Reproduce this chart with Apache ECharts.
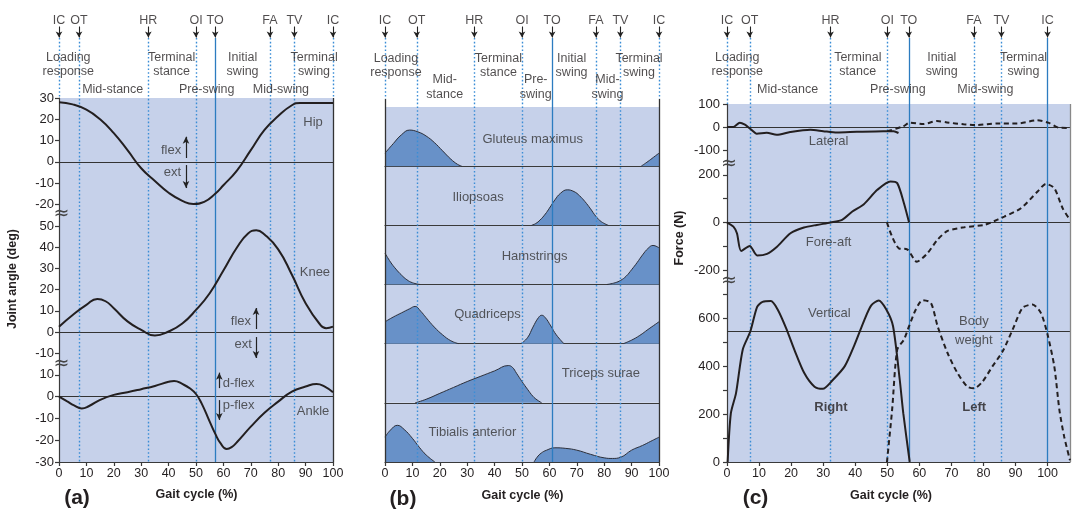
<!DOCTYPE html>
<html><head><meta charset="utf-8">
<script src="https://cdn.jsdelivr.net/npm/echarts@6/dist/echarts.min.js"></script>
<style>html,body{margin:0;padding:0;background:#fff}#c{width:1073px;height:512px}</style>
</head><body><div id="c"></div>
<script>
// ---------------- DATA ----------------
const gaitLabels = [0,10,20,30,40,50,60,70,80,90,100];
const eventNames = ['IC','OT','HR','OI','TO','FA','TV','IC'];
const eventsA = [0,7.3,32.6,50,57,77,85.9,100];
const eventsB = [0,11.6,32.6,50,61,77,85.9,100];
const eventsC = [0,7.1,32.3,50,56.7,77,85.6,100];
const solidA = [false,false,false,false,true,false,false,false];
const solidB = [false,false,false,false,true,false,false,false];
const solidC = [false,false,false,false,true,false,false,true];
const phasesA = ['Loading\nresponse','Mid-stance','Terminal\nstance','Pre-swing','Initial\nswing','Mid-swing','Terminal\nswing'];
const phasesB = ['Loading\nresponse','Mid-\nstance','Terminal\nstance','Pre-\nswing','Initial\nswing','Mid-\nswing','Terminal\nswing'];
const phasesC = ['Loading\nresponse','Mid-stance','Terminal\nstance','Pre-swing','Initial\nswing','Mid-swing','Terminal\nswing'];

// (a) joint angles (deg) vs gait cycle (%)
const hipTicks = [30,20,10,0,-10,-20];
const kneeTicks = [50,40,30,20,10,0,-10];
const ankleTicks = [10,0,-10,-20,-30];
const hipAngle = [[0,28],[5,27],[10,24.5],[15,20],[20,13.5],[25,5.5],[30,-3],[35,-9],[40,-14.5],[45,-18.3],[49,-19.8],[53,-18.8],[57,-15],[60,-11],[65,-4],[70,5.5],[75,15],[80,21.5],[85,26.6],[88,27.7],[94,27.7],[100,27.7]];
const kneeAngle = [[0,2.5],[5,8],[10,12.8],[14,15.6],[17,14.5],[20,11.2],[25,5],[30,1],[35,-1.7],[40,0.2],[45,4],[50,10.4],[55,18.3],[60,29],[65,40],[69,46.5],[72,48],[75,46],[80,39],[85,27],[90,13.6],[95,4],[97.5,1.8],[100,2.5]];
const ankleAngle = [[0,0],[3,-2.2],[5.5,-4],[8.3,-5.4],[11,-4.3],[15,-1.5],[20,0.8],[25,2],[30,3.4],[35,4.9],[40,6.8],[42,7.2],[45,5.8],[48,3.6],[50,1.2],[52,-3],[55,-11.5],[57,-17],[59,-21.5],[61.2,-24],[63,-23.2],[65,-20.8],[70,-13.8],[75,-7.4],[80,-2.3],[85,2.3],[90,4.6],[94,5.8],[97,4.6],[100,2]];

// (b) muscle activity (% of strip height), bursts
const muscleNames = ['Gluteus maximus','Iliopsoas','Hamstrings','Quadriceps','Triceps surae','Tibialis anterior'];
const gluteus = [[[0,22],[3,38],[6,53],[9,61],[12,58],[15,51],[18,40],[21,26],[24,12],[26.5,3],[28,0]],[[93.5,0],[96,8],[98,15],[100,22]]];
const iliopsoas = [[[53.5,0],[55,3],[56.6,9],[58.5,19],[60,29],[62,43],[64,54],[66.5,60],[69,57],[71,50],[73,40],[75,28],[77,15],[79,6],[81.5,0]]];
const hamstrings = [[[0,53],[2,38],[4,26],[6,16],[8,8],[10,3],[12.8,0]],[[81,0],[84,3],[86,7],[88,14],[90,25],[92,37],[94,50],[96,61],[97.8,66],[100,62]]];
const quadriceps = [[[0,37],[3,45],[6,52],[9,59],[11,63],[13,55],[15,44],[18,28],[21,15],[24,5],[26.8,0]],[[49.6,0],[52,10],[54,28],[56,44],[57.2,48],[58.5,44],[60.5,30],[62.5,15],[65.3,0]],[[87,0],[90,6],[93,14],[96,24],[100,37]]];
const tricepsSurae = [[[11,0],[15,6],[20,16],[25,26],[30,36],[35,45],[40,54],[45,63],[46.5,60],[48,50],[50,36],[52,23],[54,11],[55.5,5],[57.2,0]]];
const tibialis = [[[0,42],[2,54],[4.5,62],[7,55],[10,40],[12.5,25],[15,12],[18.2,0]],[[54.4,0],[55.5,8],[57,15],[59,20],[62,24],[66,23],[70,20],[75,13],[80,7],[83,6],[86,8],[90,20],[94,28],[97,35],[100,42]]];

// (c) ground reaction force (N)
const lateralTicks = [100,0,-100];
const foreAftLabels = [200,0,-200];
const foreAftTicks = [200,100,0,-100,-200];
const verticalLabels = [0,200,400,600];
const verticalTicks = [0,100,200,300,400,500,600,700];
const lateralRight = [[0,0],[2,0],[4,19],[5.6,10],[7.2,-7],[9.3,-29],[12.4,-25],[15.5,-34],[19.7,-22],[26,-12],[30,-18],[34.3,-24],[40.5,-21],[48.8,-18],[52,-18],[53.5,-26]];
const lateralLeft = [[50,-18],[55,3],[57,19],[61.3,13],[65.5,26],[68.6,20],[73.8,12],[78,9],[84.3,15],[90.5,15],[96.8,29],[100.4,18],[103.5,-3],[107,-4]];
const foreAftRight = [[0,0],[2,-17],[3.1,-45],[4.4,-119],[7.1,-98],[9.4,-138],[12.5,-131],[15.6,-101],[19.8,-45],[24,-21],[28,-10],[32.3,0],[35.9,11],[39.1,46],[42.7,77],[46.9,137],[51,172],[53.1,165],[55.2,81],[56.8,0]];
const foreAftLeft = [[49.9,0],[51.5,-59],[53.6,-108],[56.2,-112],[59.2,-164],[62.5,-129],[65.6,-73],[68.8,-35],[74,-20],[80.2,-10],[82.3,0],[86.5,25],[91.7,60],[96.9,130],[99.5,162],[102.1,144],[104.7,60],[107,11]];
const verticalRight = [[0.2,0],[1.2,203],[2.8,287],[4.9,470],[7.3,547],[9.4,649],[11.1,670],[13.7,673],[15.8,638],[18.4,561],[21,470],[24.1,372],[27.3,315],[29.9,306],[33,343],[36.7,400],[39.8,491],[42.9,596],[45,655],[47.3,676],[49.7,638],[51.8,568],[53.9,343],[55,203],[57,0]];
const verticalLeft = [[49.9,0],[51.5,217],[53.1,470],[55.2,512],[56.8,568],[58.9,638],[61,677],[63.6,666],[65.7,568],[68.8,456],[71.9,372],[75,315],[77.1,308],[79.7,336],[82.8,400],[86,463],[89.1,554],[92.2,645],[95.3,659],[97.9,624],[100,533],[102.1,400],[103.7,217],[105.2,105],[107,7]];
const bodyWeight = 548;

// ---------------- STYLE / LAYOUT ----------------
const FONT = '"Liberation Sans", Arial, Helvetica, sans-serif';
const TXT = '#231f20', AX = '#3a3a3a', BG = '#c6d1ea', FILL = '#6891c8';
const DOT = '#3a8dd6', SOL = '#2c7cc0', CURVE = '#231f20';

const grid = [], xAxis = [], yAxis = [], series = [];
function addGrid(g, xa, ya) {
  grid.push(Object.assign({show:false, borderWidth:0, outerBoundsMode:'none', containLabel:false}, g));
  const gi = grid.length - 1;
  xAxis.push(Object.assign({type:'value', gridIndex:gi}, xa));
  yAxis.push(Object.assign({type:'value', gridIndex:gi}, ya));
  return gi;
}
const lineAx = {show:true, onZero:false, lineStyle:{color:AX, width:1.2}};
function yVal(min, max, labels, ticks, margin) {
  return {min, max, axisLine:lineAx,
    axisTick:{show:true, length:4, customValues:ticks, lineStyle:{color:AX, width:1.2}},
    axisLabel:{show:true, customValues:labels, color:TXT, fontSize:13, fontFamily:FONT, margin:margin},
    splitLine:{show:false}};
}
function xVal(min, max) {
  return {min, max, axisLine:lineAx,
    axisTick:{show:true, length:4, customValues:gaitLabels, lineStyle:{color:AX, width:1.2}},
    axisLabel:{show:true, customValues:gaitLabels, color:TXT, fontSize:12.5, fontFamily:FONT, margin:5},
    splitLine:{show:false}};
}
const hiddenX = (min,max) => ({min, max, show:false});
const hiddenY = (min,max,inv) => ({min, max, inverse:!!inv, show:false});

function curve(gi, data, extra) {
  return Object.assign({type:'line', xAxisIndex:gi, yAxisIndex:gi, data, smooth:0.5, symbol:'none',
    silent:true, z:5, lineStyle:{color:CURVE, width:2}}, extra || {});
}
function hLine(val) {
  return {silent:true, symbol:'none', label:{show:false}, animation:false,
    lineStyle:{color:'#333', width:1.1, type:'solid'}, data:[{yAxis:val}]};
}
function textSeries(gi, items, lab) {
  return {type:'scatter', xAxisIndex:gi, yAxisIndex:gi, symbolSize:1, silent:true, z:7,
    itemStyle:{color:'rgba(0,0,0,0)'},
    label:Object.assign({show:true, position:'inside', formatter:p=>p.name, color:TXT, fontSize:12.5,
      fontFamily:FONT, lineHeight:14}, lab || {}),
    data:items.map(it => ({name:it[0], value:[it[1], it[2]], label:it[3] || {}}))};
}
function arrowSeries(gi, arrows) {
  return {type:'scatter', xAxisIndex:gi, yAxisIndex:gi, symbolSize:0, silent:true, z:6, data:[],
    markLine:{silent:true, animation:false, label:{show:false},
      data:arrows.map(a => [{coord:[a[0],a[1]], symbol:'none', lineStyle:{color:'#222', width:1.2, type:'solid'}},
                            {coord:[a[0],a[2]], symbol:'arrow', symbolSize:[5,7]}])}};
}
function overlay(gi, events, solid, xmax, plotTop, phases, phasePos, borders, borderColor, phaseLH) {
  const ml = [];
  events.forEach((x, i) => {
    ml.push([{coord:[x,26.5], symbol:'none', lineStyle:{color:'#222', width:1.1, type:'solid'}},
             {coord:[x,37.5], symbol:'arrow', symbolSize:[5,6]}]);
    const boundary = (x === 0 || x === xmax);
    const st = solid[i] ? {color:SOL, width:1.3, type:'solid'} : {color:DOT, width:1.4, type:[1.6,2.2]};
    ml.push([{coord:[x,38], symbol:'none', lineStyle:st}, {coord:[x, boundary ? plotTop : 462], symbol:'none'}]);
  });
  borders.forEach(b => {
    ml.push([{coord:[b[0], b[1]], symbol:'none', lineStyle:{color:borderColor, width:1.3, type:'solid'}},
             {coord:[b[0], 462], symbol:'none'}]);
  });
  series.push({type:'scatter', xAxisIndex:gi, yAxisIndex:gi, symbolSize:0, silent:true, z:4, data:[],
    markLine:{silent:true, animation:false, label:{show:false}, data:ml}});
  series.push(textSeries(gi, events.map((x,i) => [eventNames[i], x, 20.5])));
  series.push(textSeries(gi, phases.map((p,i) => [p, phasePos[i][0], phasePos[i][1],
    p.indexOf('Mid-\n')===0 || p.indexOf('Pre-\n')===0 ? {lineHeight:phaseLH} : {}])));
}

// ===== Panel (a) =====
const aL = 59, aW = 274;
const gOA = addGrid({left:aL, width:aW, top:0, height:462}, hiddenX(0,100), hiddenY(0,462,true));
const gHip = addGrid({left:aL, width:aW, top:98, height:116, show:true, backgroundColor:BG},
  hiddenX(0,100), yVal(-24.5, 30, hipTicks, hipTicks, 5));
const gKnee = addGrid({left:aL, width:aW, top:214, height:151, show:true, backgroundColor:BG},
  hiddenX(0,100), yVal(-15.6, 55.7, kneeTicks, kneeTicks, 5));
const gAnk = addGrid({left:aL, width:aW, top:365, height:97, show:true, backgroundColor:BG},
  xVal(0,100), yVal(-30, 14.5, ankleTicks, ankleTicks, 5));
series.push(curve(gHip, hipAngle, {markLine:hLine(0)}));
series.push(curve(gKnee, kneeAngle, {markLine:hLine(0)}));
series.push(curve(gAnk, ankleAngle, {markLine:hLine(0)}));
series.push(textSeries(gHip, [['Hip',92.7,18.3],['flex',40.9,5.3],['ext',41.4,-5.2]], {fontSize:13, color:'#333'}));
series.push(textSeries(gKnee, [['Knee',93.4,28],['flex',66.4,5.2],['ext',67.2,-5.7]], {fontSize:13, color:'#333'}));
series.push(textSeries(gAnk, [['Ankle',92.7,-6.9],
  ['d-flex',59.6,6.2,{position:'right', distance:0}],['p-flex',59.6,-4.2,{position:'right', distance:0}]], {fontSize:13, color:'#333'}));
series.push(arrowSeries(gHip, [[46.35,1.8,11.8],[46.35,-1.5,-12.3]]));
series.push(arrowSeries(gKnee, [[71.9,1.4,11.3],[71.9,-2.4,-12.3]]));
series.push(arrowSeries(gAnk, [[58.5,3.9,11],[58.5,-1.6,-10.7]]));
overlay(gOA, eventsA, solidA, 100, 98, phasesA,
  [[3.4,65],[19.6,89.5],[41.1,65],[53.9,89.5],[67,65],[81,89.5],[93.1,65]], [[100,98]], '#333', 14);

// ===== Panel (b) =====
const bL = 385, bW = 274, bTop = 107, stripH = (462-107)/6;
const gOB = addGrid({left:bL, width:bW, top:0, height:462}, hiddenX(0,100), hiddenY(0,462,true));
const muscles = [gluteus, iliopsoas, hamstrings, quadriceps, tricepsSurae, tibialis];
const musclePos = [[53.9,45.8],[34,48],[54.6,47.5],[37.4,49],[78.8,49.6],[31.9,49.6]];
muscles.forEach((bursts, i) => {
  const last = i === muscles.length - 1;
  const xa = last ? xVal(0,100) : {min:0, max:100, axisLine:lineAx, axisTick:{show:false}, axisLabel:{show:false}, splitLine:{show:false}};
  const gi = addGrid({left:bL, width:bW, top:bTop + i*stripH, height:stripH, show:true, backgroundColor:BG},
    xa, hiddenY(0,100));
  bursts.forEach(b => series.push({type:'line', xAxisIndex:gi, yAxisIndex:gi, data:b, smooth:0.45,
    symbol:'none', silent:true, z:3, lineStyle:{color:'#2c2f3a', width:1},
    areaStyle:{color:FILL, opacity:1}}));
  series.push(textSeries(gi, [[muscleNames[i], musclePos[i][0], musclePos[i][1]]], {fontSize:13, color:'#333'}));
});
overlay(gOB, eventsB, solidB, 100, 99, phasesB,
  [[4,65.5],[21.8,87.5],[41.4,65.5],[55,87.5],[68.1,65.5],[81.2,87.5],[92.7,65.5]], [[0,99],[100,99]], '#333', 15);

// ===== Panel (c) =====
const cL = 727, cW = 343, cMax = 107;
const gOC = addGrid({left:cL, width:cW, top:0, height:462}, hiddenX(0,cMax), hiddenY(0,462,true));
const gLat = addGrid({left:cL, width:cW, top:104, height:61, show:true, backgroundColor:BG},
  hiddenX(0,cMax), yVal(-165, 100, lateralTicks, lateralTicks, 7));
const gFA = addGrid({left:cL, width:cW, top:165, height:117, show:true, backgroundColor:BG},
  hiddenX(0,cMax), yVal(-249, 241, foreAftLabels, foreAftTicks, 7));
const gVert = addGrid({left:cL, width:cW, top:282, height:180, show:true, backgroundColor:BG},
  xVal(0,cMax), yVal(0, 753, verticalLabels, verticalTicks, 7));
const dashed = {lineStyle:{color:CURVE, width:2, type:[5,3.5]}};
series.push(curve(gLat, lateralRight, {smooth:0.25, markLine:hLine(0)}));
series.push(curve(gLat, lateralLeft, Object.assign({smooth:0.25}, dashed)));
series.push(curve(gFA, foreAftRight, {smooth:0.25, markLine:hLine(0)}));
series.push(curve(gFA, foreAftLeft, Object.assign({smooth:0.25}, dashed)));
series.push(curve(gVert, verticalRight, {smooth:0.25, markLine:hLine(bodyWeight)}));
series.push(curve(gVert, verticalLeft, Object.assign({smooth:0.25}, dashed)));
series.push(textSeries(gLat, [['Lateral',31.7,-64]], {fontSize:13, color:'#333'}));
series.push(textSeries(gFA, [['Fore-aft',31.7,-85]], {fontSize:13, color:'#333'}));
series.push(textSeries(gVert, [['Vertical',31.9,621],['Body\nweight',77,547,{lineHeight:19}],
  ['Right',32.4,230,{fontWeight:'bold', color:TXT}],['Left',77.1,230,{fontWeight:'bold', color:TXT}]], {fontSize:13, color:'#333'}));
overlay(gOC, eventsC, solidC, cMax, 104, phasesC,
  [[3.2,65],[18.9,90],[40.8,65],[53.3,90],[67,65],[80.6,90],[92.5,65]], [[cMax,104]], '#888', 14);

// ---------------- annotations (graphic) ----------------
function gtext(x, y, text, font, rot, fill) {
  return {type:'text', x, y, rotation:rot || 0, silent:true, z:100,
    style:{text, fill:fill || TXT, font, align:'center', verticalAlign:'middle', textAlign:'center', textVerticalAlign:'middle'}};
}
const BRK = '19px "DejaVu Sans", ' + FONT;
const graphic = [
  gtext(61.5, 214, '≈', BRK, 0, '#444'), gtext(61.5, 364, '≈', BRK, 0, '#444'),
  gtext(729, 164, '≈', BRK, 0, '#444'), gtext(729, 281, '≈', BRK, 0, '#444'),
  gtext(13, 279, 'Joint angle (deg)', 'bold 12.5px ' + FONT, Math.PI/2),
  gtext(680, 238, 'Force (N)', 'bold 12.5px ' + FONT, Math.PI/2),
  gtext(196.5, 495, 'Gait cycle (%)', 'bold 12.5px ' + FONT),
  gtext(522.5, 496, 'Gait cycle (%)', 'bold 12.5px ' + FONT),
  gtext(891, 496, 'Gait cycle (%)', 'bold 12.5px ' + FONT),
  gtext(77, 498, '(a)', 'bold 21px ' + FONT),
  gtext(403, 499, '(b)', 'bold 21px ' + FONT),
  gtext(755.5, 498, '(c)', 'bold 21px ' + FONT)
];

const chart = echarts.init(document.getElementById('c'), null, {renderer:'canvas', width:1073, height:512});
chart.setOption({
  animation:false,
  backgroundColor:'#ffffff',
  textStyle:{fontFamily:FONT},
  grid, xAxis, yAxis, series, graphic
});
</script>
</body></html>
